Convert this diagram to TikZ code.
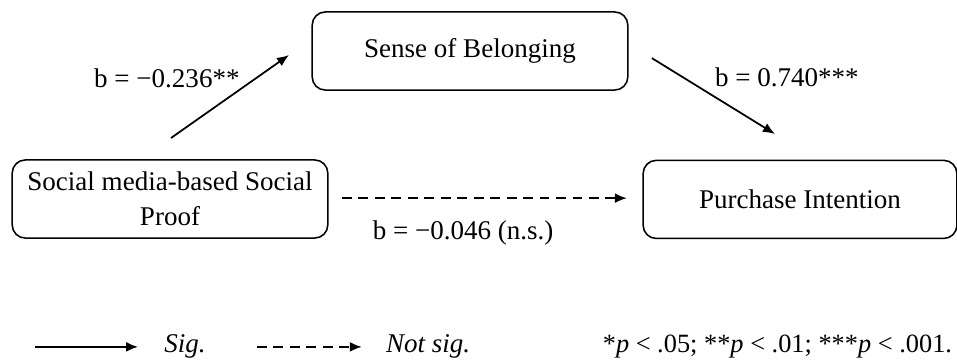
\documentclass[tikz,border=0pt]{standalone}
\usepackage{fontspec}
\setmainfont{Liberation Serif}
\usetikzlibrary{arrows.meta}
\tikzset{
  var/.style={draw, rounded corners=6pt, line width=0.7pt, minimum width=5.05cm,
    minimum height=1.25cm, align=center, inner sep=2pt},
  sig/.style={line width=0.8pt, -{Latex[length=5.5pt,width=4.5pt]}},
  nsig/.style={sig, dash pattern=on 4.5pt off 3pt}
}
\begin{document}
\begin{tikzpicture}
    \fontsize{12.3}{16}\selectfont
    \useasboundingbox (0,0) rectangle (15.312,-5.808);
    \node[var] (SB) at (7.52,-0.816) {Sense of Belonging};
    \node[var] (SP) at (2.72,-3.184) {Social media-based Social\\Proof};
    \node[var, minimum width=5.02cm] (PI) at (12.8,-3.19) {Purchase Intention};

    \coordinate (a1) at (2.736,-2.208);
    \coordinate (b1) at (4.624,-0.88);
    \coordinate (a2) at (10.43,-0.93);
    \coordinate (b2) at (12.4,-2.144);
    \coordinate (c1) at (5.47,-3.17);
    \coordinate (c2) at (10.03,-3.17);

    \draw[sig] (a1) -- (b1);
    \draw[sig] (a2) -- (b2);
    \draw[nsig] (c1) -- (c2);

    \node (l1) at (2.67,-1.25) {b = −0.236**};
    \node (l2) at (12.59,-1.23) {b = 0.740***};
    \node (l3) at (7.41,-3.73) {b = −0.046 (n.s.)};

    % legend
    \coordinate (s0) at (0.56,-5.55);
    \coordinate (s1) at (2.21,-5.55);
    \coordinate (d0) at (4.11,-5.55);
    \coordinate (d1) at (5.79,-5.55);
    \draw[sig] (s0) -- (s1);
    \draw[nsig] (d0) -- (d1);
    \node (Sig) at (2.96,-5.55) {\textit{Sig.}};
    \node (Nsig) at (6.85,-5.55) {\textit{Not sig.}};
    \node[anchor=east, inner sep=0pt, font=\fontsize{12}{14}\selectfont] (pval) at (15.24,-5.55)
      {*\textit{p} < .05; **\textit{p} < .01; ***\textit{p} < .001.};
  \end{tikzpicture}
\end{document}
